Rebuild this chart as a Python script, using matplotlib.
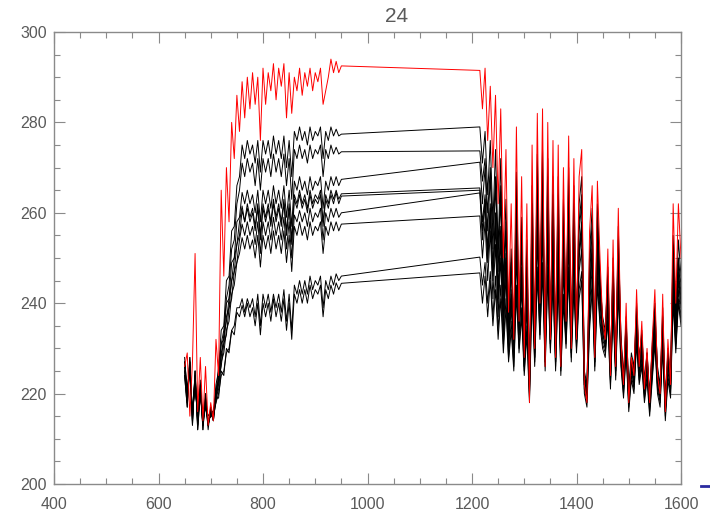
import matplotlib
matplotlib.use("Agg")
import matplotlib.pyplot as plt
from matplotlib.ticker import MultipleLocator
from matplotlib.lines import Line2D
import numpy as np

# wavenumber grids: short-wave band and long-wave band
x_lo = np.arange(650, 951, 5)
x_hi = np.arange(1215, 1601, 5)

red_lo = [226, 229, 215, 227, 251, 216, 228, 214, 226, 213, 218,
          214, 232, 224, 265, 246, 270, 258, 280, 272, 286, 278,
          289, 281, 290, 283, 291, 284, 290, 276, 292, 284, 291, 287, 293, 285,
          292, 288, 293, 281, 291, 282, 290, 287, 292, 286, 291, 288, 292, 287,
          291, 289, 292, 284, 287, 290, 294, 291, 293.5, 291, 292.5]
red_hi = [291.5, 283, 292, 276, 288, 270, 286, 262, 283, 250,
          274, 238, 262, 232, 279, 236, 268, 228, 262, 218,
          275, 230, 282, 240, 283, 226, 280, 232, 276, 228,
          275, 226, 270, 236, 277, 230, 272, 232, 268, 274,
          222, 218, 256, 266, 228, 267, 250, 236, 232, 252,
          224, 254, 226, 261, 232, 222, 240, 218, 228, 224,
          243, 226, 236, 221, 230, 218, 232, 243, 224, 220,
          242, 216, 232, 222, 262, 240, 262, 250]

black_lo = [
    [226, 219, 228, 214, 225, 213, 223, 212, 220, 213, 217,
     215, 222, 225, 234, 235, 245, 246, 256, 257, 266, 268,
     275, 272, 276, 273, 275, 271, 276, 269, 276, 273, 276, 272, 277, 273,
     276, 272, 277, 270, 276, 268, 278, 276, 279, 276, 278, 275, 279, 276,
     278, 277, 279, 272, 278, 276, 279, 277, 278.5, 277, 277.4],
    [227, 221, 226, 216, 223, 215, 221, 214, 218, 215, 216,
     216, 220, 226, 231, 234, 241, 244, 252, 254, 262, 265,
     271, 268, 272, 269, 271, 266, 272, 265, 272, 269, 272, 268, 273, 269,
     272, 268, 273, 266, 272, 263, 274, 272, 275, 272, 274, 271, 275, 272,
     274, 273, 275, 268, 274, 272, 275, 273, 274.5, 273, 273.5],
    [225, 218, 227, 215, 224, 214, 220, 213, 219, 212, 217,
     214, 221, 223, 231, 232, 240, 241, 249, 250, 258, 259,
     264.5, 262, 265, 262, 264, 260, 265, 258, 265, 262, 265, 261, 266, 262,
     265, 261, 266, 259, 265, 257, 267, 265, 268, 265, 267, 264, 268, 265,
     267, 266, 268, 261, 267, 265, 268, 266, 268, 266, 267.4],
    [228, 220, 226, 216, 222, 215, 222, 214, 218, 214, 215,
     216, 219, 224, 228, 233, 236, 241, 245, 250, 253, 258,
     261.5, 258, 262, 259, 261, 257, 262, 255, 262, 259, 262, 258, 263, 259,
     262, 258, 263, 256, 262, 254, 264, 262, 265, 262, 264, 261, 265, 262,
     264, 263, 265, 258, 264, 262, 265, 263, 265, 263, 264.2],
    [224, 217, 228, 213, 225, 212, 221, 213, 220, 213, 216,
     215, 220, 222, 229, 231, 237, 239, 245, 247, 253, 255,
     260.5, 258, 261, 258, 260, 256, 261, 254, 261, 258, 261, 257, 262, 258,
     261, 257, 262, 255, 261, 253, 263, 261, 264, 261, 263, 260, 264, 261,
     263, 262, 264, 257, 263, 261, 264, 262, 264.5, 262, 263.7],
    [227, 219, 225, 215, 223, 214, 220, 215, 217, 214, 215,
     216, 218, 223, 226, 231, 233, 239, 241, 247, 249, 254,
     257.5, 255, 258, 255, 257, 253, 258, 251, 258, 255, 258, 254, 259, 255,
     258, 254, 259, 252, 258, 250, 259.5, 258, 260.5, 258, 260, 257, 261, 258,
     260, 259, 261, 254, 260, 258, 261, 259, 261, 259, 260],
    [225, 218, 227, 214, 224, 213, 222, 212, 219, 213, 216,
     214, 219, 221, 227, 229, 234, 236, 242, 244, 249, 251,
     254.5, 252, 255, 252, 254, 250, 255, 248, 255, 252, 255, 251, 256, 252,
     255, 251, 256, 249, 255, 247, 257, 255, 258, 255, 257, 254, 258, 255,
     257, 256, 258, 251, 257, 255, 258, 256, 258, 256, 257.5],
    [226, 220, 227, 215, 223, 214, 221, 213, 218, 214, 215,
     215, 218, 220, 224, 225, 229, 230, 234, 235, 239, 239,
     241, 238, 241, 239, 241, 237, 242, 235, 242, 239, 242, 238, 242, 239,
     242, 238, 243, 236, 242, 234, 244, 242, 245, 242, 245, 242, 246, 243,
     245, 244, 246, 239, 245, 243, 246, 244, 246.5, 245, 246],
    [224, 217, 226, 213, 225, 212, 220, 214, 217, 213, 216,
     214, 219, 219, 225, 224, 230, 229, 234, 233, 238, 237,
     239.5, 237, 240, 237, 239, 235, 240, 233, 240, 237, 240, 236, 241, 237,
     240, 236, 241, 234, 240, 232, 242, 240, 243, 240, 243, 240, 244, 241,
     243, 242, 244, 237, 243, 241, 244, 242, 244.5, 243, 244.4],
]

black_hi = [
    [279, 271, 278, 264, 276, 258, 274, 252, 272, 244,
     263, 236, 252, 233, 269, 238, 259, 230, 254, 222,
     266, 232, 273, 241, 274, 229, 272, 234, 268, 230,
     268, 228, 263, 237, 270, 232, 266, 234, 262, 268,
     224, 221, 251, 261, 230, 262, 246, 236, 233, 248,
     226, 250, 227, 257, 232, 223, 237, 220, 228, 225,
     240, 227, 234, 222, 229, 219, 231, 240, 225, 221,
     239, 218, 230, 223, 255, 238, 254, 246],
    [273.7, 267, 272, 260, 270, 255, 268, 250, 266, 243,
     258, 236, 249, 234, 264, 238, 255, 231, 250, 224,
     262, 233, 268, 242, 270, 230, 268, 235, 264, 231,
     264, 229, 259, 238, 266, 233, 262, 235, 258, 264,
     225, 222, 248, 258, 231, 259, 245, 237, 234, 246,
     227, 248, 228, 254, 233, 224, 236, 221, 229, 226,
     238, 228, 233, 223, 229, 220, 230, 238, 226, 222,
     237, 219, 229, 224, 252, 237, 250, 244],
    [271.2, 262, 270, 256, 268, 252, 266, 247, 263, 241,
     256, 235, 247, 232, 261, 237, 252, 229, 248, 221,
     259, 231, 265, 240, 267, 228, 265, 233, 262, 229,
     262, 227, 257, 236, 264, 231, 260, 233, 256, 262,
     223, 220, 246, 256, 229, 257, 244, 235, 232, 245,
     225, 247, 226, 252, 231, 222, 235, 219, 227, 224,
     237, 226, 232, 221, 228, 218, 229, 237, 224, 220,
     236, 217, 228, 222, 250, 235, 249, 242],
    [265.5, 258, 264, 252, 262, 248, 260, 243, 257, 238,
     251, 233, 243, 230, 256, 235, 248, 228, 244, 222,
     255, 230, 260, 238, 262, 229, 260, 232, 257, 229,
     257, 228, 253, 235, 259, 231, 256, 233, 252, 258,
     224, 221, 243, 253, 229, 254, 242, 235, 232, 243,
     225, 245, 227, 250, 231, 223, 234, 220, 227, 224,
     236, 226, 231, 222, 228, 219, 228, 236, 224, 221,
     235, 218, 228, 223, 248, 234, 247, 241],
    [265.0, 256, 263, 250, 261, 246, 259, 241, 256, 236,
     250, 231, 242, 229, 255, 233, 247, 226, 243, 220,
     254, 228, 259, 237, 261, 227, 259, 231, 256, 227,
     256, 226, 252, 234, 258, 229, 255, 231, 251, 257,
     222, 219, 242, 252, 227, 253, 241, 234, 230, 242,
     223, 244, 225, 249, 230, 221, 233, 218, 226, 222,
     235, 224, 230, 220, 227, 217, 227, 235, 222, 219,
     234, 216, 227, 221, 247, 233, 246, 240],
    [264.4, 254, 262, 249, 259, 245, 257, 240, 254, 235,
     249, 232, 241, 230, 253, 234, 246, 227, 242, 221,
     253, 229, 258, 236, 259, 228, 258, 232, 255, 228,
     255, 227, 251, 233, 257, 230, 254, 232, 250, 256,
     223, 220, 241, 251, 228, 252, 240, 233, 231, 241,
     224, 243, 226, 248, 229, 222, 232, 219, 226, 223,
     234, 225, 229, 221, 226, 218, 226, 234, 223, 220,
     233, 217, 226, 222, 246, 232, 245, 239],
    [259.3, 250, 258, 245, 256, 241, 253, 237, 250, 233,
     246, 230, 239, 228, 250, 232, 243, 226, 239, 220,
     249, 228, 254, 235, 255, 227, 254, 231, 251, 227,
     251, 226, 247, 232, 253, 229, 250, 231, 247, 252,
     222, 219, 239, 248, 227, 249, 238, 232, 230, 239,
     223, 241, 225, 246, 228, 221, 231, 218, 225, 222,
     233, 224, 228, 220, 225, 217, 225, 233, 222, 219,
     232, 216, 225, 221, 244, 231, 243, 237],
    [250.2, 244, 249, 240, 247, 237, 246, 234, 244, 231,
     241, 228, 236, 226, 244, 230, 239, 225, 235, 219,
     244, 227, 248, 233, 249, 226, 248, 230, 246, 226,
     246, 225, 242, 231, 248, 228, 245, 230, 243, 247,
     221, 218, 236, 245, 226, 246, 236, 231, 229, 237,
     222, 239, 224, 244, 227, 220, 230, 217, 224, 221,
     232, 223, 227, 219, 224, 216, 224, 232, 221, 218,
     231, 215, 224, 220, 242, 230, 241, 236],
    [246.7, 240, 246, 237, 245, 235, 243, 232, 241, 229,
     239, 227, 234, 225, 242, 229, 237, 224, 233, 218,
     242, 226, 246, 232, 247, 225, 246, 229, 244, 225,
     244, 224, 240, 230, 246, 227, 243, 229, 241, 245,
     220, 217, 234, 243, 225, 244, 235, 230, 228, 236,
     221, 238, 223, 242, 226, 219, 229, 216, 223, 220,
     231, 222, 226, 218, 223, 215, 223, 231, 220, 217,
     230, 214, 223, 219, 240, 229, 240, 235],
]

plt.rcParams['font.family'] = ['Liberation Sans', 'DejaVu Sans']

fig = plt.figure(figsize=(7.10, 5.11), dpi=100)
ax = fig.add_axes([54/710, 27/511, 627/710, 452/511])

x_all = np.concatenate([x_lo, x_hi])
for lo, hi in zip(black_lo, black_hi):
    ax.plot(x_all, np.concatenate([lo, hi]), color='black', lw=0.7)
ax.plot(x_all, np.concatenate([red_lo, red_hi]), color='#ff0000', lw=0.7)

ax.set_xlim(400, 1600)
ax.set_ylim(200, 300)
ax.xaxis.set_major_locator(MultipleLocator(200))
ax.xaxis.set_minor_locator(MultipleLocator(50))
ax.yaxis.set_major_locator(MultipleLocator(20))
ax.yaxis.set_minor_locator(MultipleLocator(5))

gray = '#8a8a8a'
for s in ax.spines.values():
    s.set_color(gray)
    s.set_linewidth(1.0)
ax.tick_params(which='both', direction='in', top=True, right=True,
               color=gray, width=0.8, labelcolor='#5a5a5a', labelsize=11.5)
ax.tick_params(which='major', length=8)
ax.tick_params(which='minor', length=4)
ax.tick_params(axis='x', which='major', pad=9)
ax.tick_params(axis='y', which='major', pad=5)

fig.text(397/710, 1 - 16/511, '24', ha='center', va='center',
         fontsize=15, color='#5a5a5a')

# small blue dash at lower right edge
fig.add_artist(Line2D([701/710, 712/710], [1 - 486/511, 1 - 486/511],
                      color='#2a2aa0', lw=2.0))

fig.savefig('out.png', dpi=100)
